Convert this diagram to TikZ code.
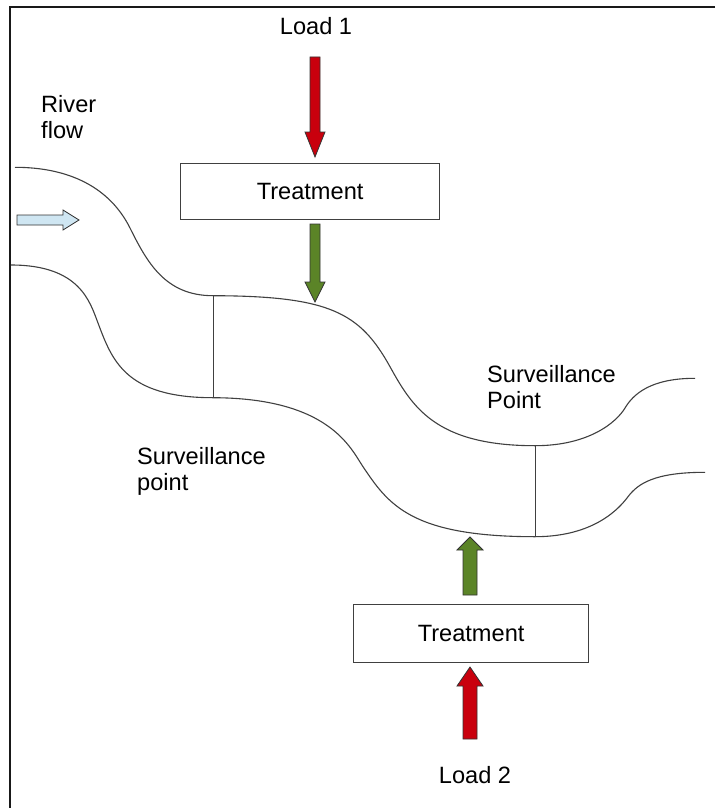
\documentclass[tikz,border=0pt]{standalone}
\usepackage{fontspec}
\setmainfont{Liberation Sans}
\begin{document}
\begin{tikzpicture}[x=1pt,y=-1pt,
  bank/.style={draw=black!75,line width=1.1pt},
  gauge/.style={draw=black!75,line width=1pt},
  label/.style={font=\fontsize{23.6}{26.5}\selectfont,inner sep=0pt,text=black},
  stepbox/.style={draw=black!75,line width=1.2pt,fill=white},
  blockarrow/.style={draw=black!80,line width=0.8pt}]
\definecolor{loadred}{HTML}{C9000D}
\definecolor{cleangreen}{HTML}{5B8427}
\definecolor{flowblue}{HTML}{CFE6F2}
\useasboundingbox (0,0) rectangle (715,808);
\fill[white] (0,0) rectangle (715,808);

% page frame (top and left edges)
\draw[black!90,line width=1.3pt] (715,7) -- (10,7) -- (10,808);

% upper river bank
\draw[bank] (15,167.3)
  .. controls (70,167.3) and (110,188) .. (130,228)
  .. controls (147,262) and (165,295.7) .. (213,295.7)
  .. controls (330,296) and (360,312.7) .. (390,366.7)
  .. controls (412,406.3) and (435,445.7) .. (535,445.7)
  .. controls (590,445.7) and (617,421.4) .. (625,408)
  .. controls (633,394.6) and (650,378.3) .. (695,378.3);
% lower river bank
\draw[bank] (11,265)
  .. controls (80,265) and (90,302) .. (98,323)
  .. controls (112,360) and (125,397.7) .. (213,397.7)
  .. controls (330,398) and (351,449) .. (363,466.7)
  .. controls (388,503.7) and (410,536.7) .. (535,536.7)
  .. controls (595,536.7) and (620,507.4) .. (628,496.7)
  .. controls (638,483.4) and (655,472.3) .. (705,472.3);

% surveillance cross-sections
\coordinate (s1top) at (213,295.7);
\coordinate (s1bot) at (213,397.7);
\coordinate (s2top) at (535,445.7);
\coordinate (s2bot) at (535,536.7);
\draw[gauge] (s1top) -- (s1bot);
\draw[gauge] (s2top) -- (s2bot);

% treatment boxes
\node[stepbox,minimum width=259pt,minimum height=56pt,anchor=north west,inner sep=0pt]
  (treat1) at (180,163) {};
\node[label] at (treat1.center) {Treatment};
\node[stepbox,minimum width=235pt,minimum height=58pt,anchor=north west,inner sep=0pt]
  (treat2) at (353,604) {};
\node[label] at (treat2.center) {Treatment};

% labels
\node[label] (load1) at (316,26) {Load 1};
\node[label] (load2) at (475,775) {Load 2};
\node[label,align=left,anchor=north west] (flow) at (41,95) {River\\flow};
\node[label,align=left,anchor=north west] (sp1) at (137,447) {Surveillance\\point};
\node[label,align=left,anchor=north west] (sp2) at (487,365) {Surveillance\\Point};

% block arrows
% Load 1 into upper treatment
\draw[blockarrow,fill=loadred] (310,57) -- (320,57) -- (320,132) -- (325,132) -- (315,157)
  -- (305,132) -- (310,132) -- cycle;
% upper treatment into river
\draw[blockarrow,fill=cleangreen] (310,224) -- (320,224) -- (320,282) -- (325,282) -- (315,302)
  -- (305,282) -- (310,282) -- cycle;
% Load 2 into lower treatment
\draw[blockarrow,fill=loadred] (463,739) -- (477,739) -- (477,686) -- (483,686) -- (470,667)
  -- (457,686) -- (463,686) -- cycle;
% lower treatment into river
\draw[blockarrow,fill=cleangreen] (463,595) -- (477,595) -- (477,550) -- (483,550) -- (470,537)
  -- (457,550) -- (463,550) -- cycle;
% direction of flow
\draw[blockarrow,fill=flowblue] (17,215) -- (63,215) -- (63,210) -- (79,220) -- (63,230)
  -- (63,225) -- (17,225) -- cycle;
\end{tikzpicture}
\end{document}
